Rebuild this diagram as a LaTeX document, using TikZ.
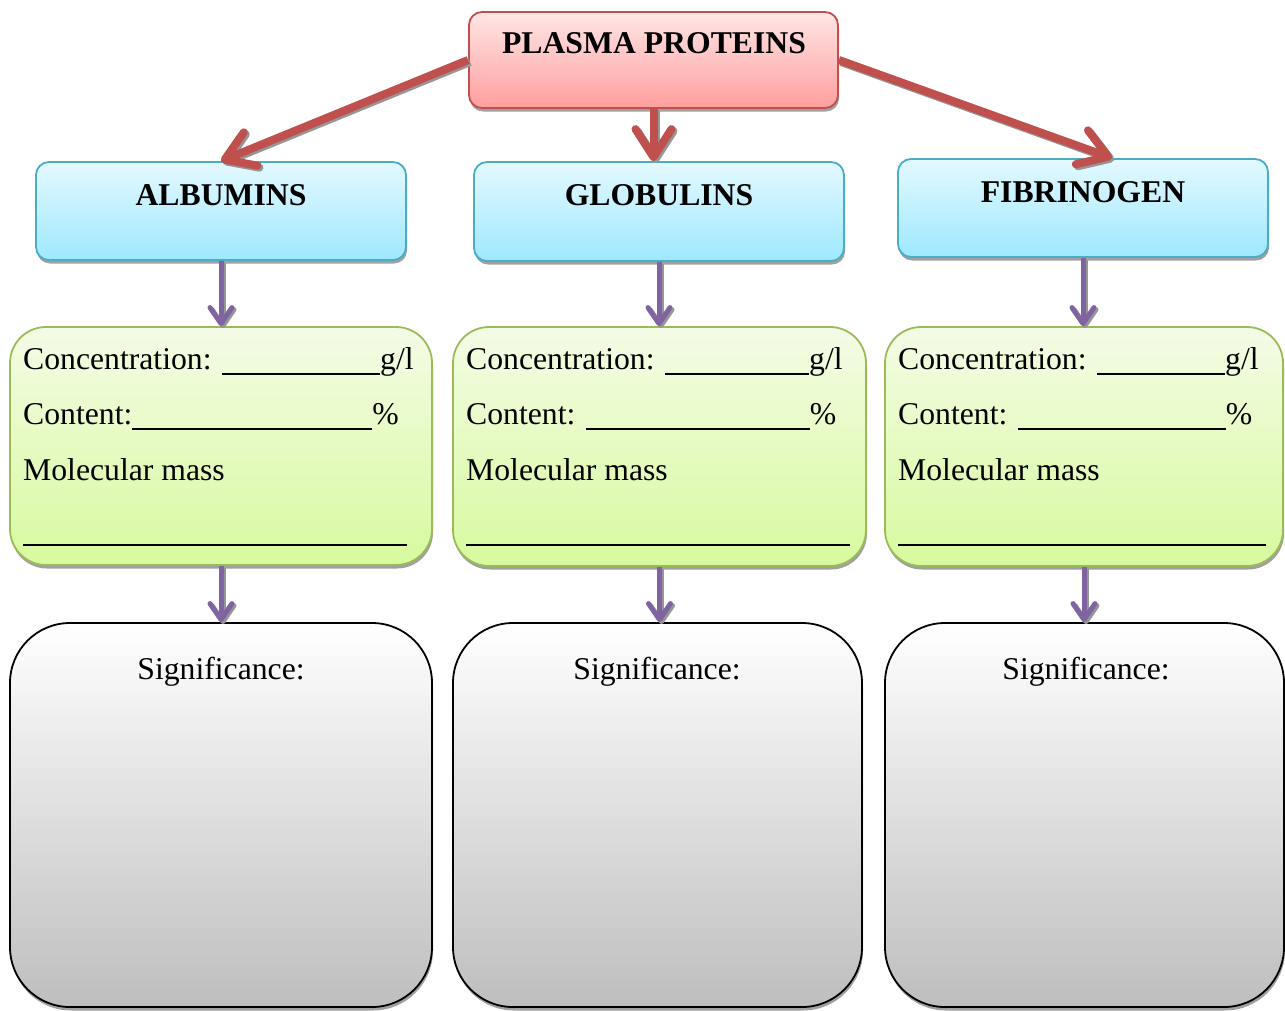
\documentclass[tikz,border=0pt]{standalone}
\usepackage{fontspec}
\setmainfont{Liberation Serif}
\usetikzlibrary{arrows.meta,shadows,calc}

\definecolor{redline}{RGB}{192,80,77}
\definecolor{pinktop}{RGB}{255,230,230}
\definecolor{pinkbot}{RGB}{255,158,158}
\definecolor{blueline}{RGB}{75,172,198}
\definecolor{bluetop}{RGB}{228,249,255}
\definecolor{bluebot}{RGB}{158,232,255}
\definecolor{greenline}{RGB}{155,187,89}
\definecolor{greentop}{RGB}{244,251,230}
\definecolor{greenbot}{RGB}{215,250,158}
\definecolor{greybot}{RGB}{190,190,190}
\definecolor{greymid}{RGB}{228,228,228}
\definecolor{purpleline}{RGB}{128,100,162}
\definecolor{shadowgrey}{RGB}{150,150,150}

% blank to be filled in by hand
\newcommand{\blank}[1]{\rule[-5.5pt]{#1pt}{1.5pt}}

\begin{document}
\begin{tikzpicture}[x=1pt,y=-1pt,
  txt/.style={font=\fontsize{31.7}{38}\selectfont, inner sep=0pt, anchor=base west},
  title/.style={font=\bfseries\fontsize{31.7}{38}\selectfont, inner sep=0pt, anchor=base},
  boxbase/.style={line width=1.8pt, inner sep=0pt,
    drop shadow={shadow xshift=1pt, shadow yshift=-3.5pt, fill=shadowgrey, opacity=0.9}},
  pinkbox/.style={boxbase, draw=redline, top color=pinktop, bottom color=pinkbot, rounded corners=13pt},
  bluebox/.style={boxbase, draw=blueline, top color=bluetop, bottom color=bluebot, rounded corners=13pt},
  greenbox/.style={boxbase, draw=greenline, top color=greentop, bottom color=greenbot, rounded corners=36pt},
  greybox/.style={boxbase, draw=black, top color=white, middle color=greymid, bottom color=greybot, rounded corners=60pt},
  redarrow/.style={draw=redline, line width=8pt, -{Straight Barb[length=28pt,width=36pt,round]}},
  purplearrow/.style={draw=purpleline, line width=5pt, -{Straight Barb[length=16pt,width=22pt,round]}},
  arrowshadow/.style={draw=shadowgrey, transform canvas={shift={(2,2)}}},
]
\useasboundingbox (0,0) rectangle (1285,1010);

% boxes
\node[pinkbox, minimum width=369pt, minimum height=96pt] (pp) at (653.5,60) {};
\node[bluebox, minimum width=370pt, minimum height=98pt] (alb) at (221,211) {};
\node[bluebox, minimum width=370pt, minimum height=99pt] (glob) at (659,211.5) {};
\node[bluebox, minimum width=370pt, minimum height=98pt] (fib) at (1083,208) {};
\node[greenbox, minimum width=422pt, minimum height=238pt] (g1) at (221,446) {};
\node[greenbox, minimum width=413pt, minimum height=239pt] (g2) at (659.5,446.5) {};
\node[greenbox, minimum width=398pt, minimum height=239pt] (g3) at (1084,446.5) {};
\node[greybox, minimum width=422pt, minimum height=384pt] (s1) at (221,815) {};
\node[greybox, minimum width=409pt, minimum height=384pt] (s2) at (657.5,815) {};
\node[greybox, minimum width=399pt, minimum height=384pt] (s3) at (1084.5,815) {};

% titles
\node[title] (ppT) at (654,53.5) {PLASMA PROTEINS};
\node[title] (albT) at (221,205) {ALBUMINS};
\node[title] (globT) at (659,205) {GLOBULINS};
\node[title] (fibT) at (1083,202) {FIBRINOGEN};

% albumins data
\node[txt] (a1) at (23,369) {Concentration: \blank{158}g/l};
\node[txt] (a2) at (23,424) {Content:\blank{240}\%};
\node[txt] (a3) at (23,480) {Molecular mass};
\node[txt] (a4) at (23,540) {\blank{384}};

% globulins data
\node[txt] (b1) at (466,369) {Concentration: \blank{144}g/l};
\node[txt] (b2) at (466,424) {Content: \blank{224}\%};
\node[txt] (b3) at (466,480) {Molecular mass};
\node[txt] (b4) at (466,540) {\blank{384}};

% fibrinogen data
\node[txt] (c1) at (898,369) {Concentration: \blank{128}g/l};
\node[txt] (c2) at (898,424) {Content: \blank{208}\%};
\node[txt] (c3) at (898,480) {Molecular mass};
\node[txt] (c4) at (898,540) {\blank{368}};

% significance headings
\node[txt, anchor=base] (s1T) at (221,679) {Significance:};
\node[txt, anchor=base] (s2T) at (657,679) {Significance:};
\node[txt, anchor=base] (s3T) at (1086,679) {Significance:};

% red connectors
\coordinate (fibIn) at ($(fib.north)+(29,0)$);
\draw[redarrow, arrowshadow] (pp.west) -- (alb.north);
\draw[redarrow, arrowshadow] (pp.south) -- (pp.south |- glob.north);
\draw[redarrow, arrowshadow] (pp.east) -- (fibIn);
\draw[redarrow] (pp.west) -- (alb.north);
\draw[redarrow] (pp.south) -- (pp.south |- glob.north);
\draw[redarrow] (pp.east) -- (fibIn);

% purple connectors
\foreach \a/\b in {alb/g1, glob/g2, fib/g3, g1/s1, g2/s2, g3/s3}{
  \draw[purplearrow, arrowshadow] (\a.south) -- (\a.south |- \b.north);
  \draw[purplearrow] (\a.south) -- (\a.south |- \b.north);
}
\end{tikzpicture}
\end{document}
